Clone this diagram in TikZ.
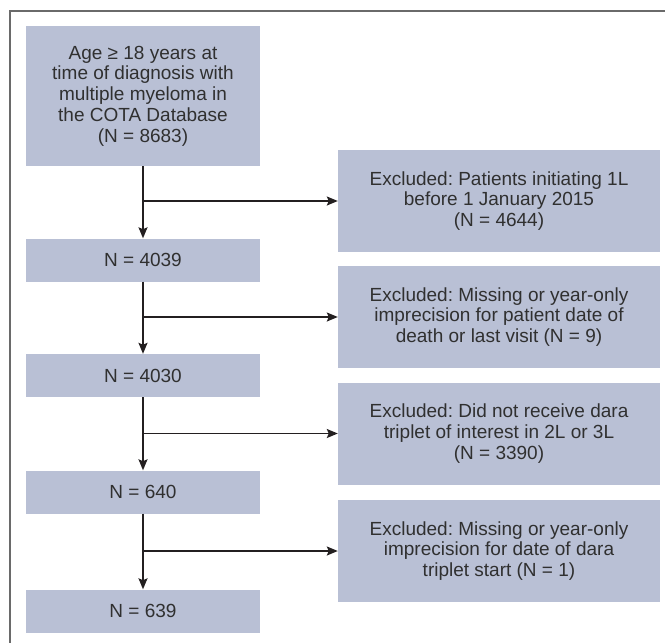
\documentclass[tikz,border=0pt]{standalone}
\usepackage{fontspec}
\setmainfont{Liberation Sans}
\usetikzlibrary{positioning, arrows.meta}

\definecolor{boxfill}{HTML}{B9C0D5}
\definecolor{textgrey}{HTML}{303030}
\definecolor{framegrey}{HTML}{6A6A6A}
\definecolor{arrowdark}{HTML}{231F20}

\begin{document}
\frenchspacing
\begin{tikzpicture}[x=1pt, y=-1pt,
    box/.style={fill=boxfill, text=textgrey, align=center, inner sep=0pt,
        font=\fontsize{19}{20.7}\selectfont},
    count/.style={box, minimum width=234pt, minimum height=43pt},
    excl/.style={box, minimum width=322pt, minimum height=102pt},
    flow/.style={draw=arrowdark, line width=1.7pt,
        -{Stealth[length=11pt, width=9pt, inset=2pt]}}]
    \useasboundingbox (0, 0) rectangle (665, 643);

    %% Frame
    \draw[framegrey, line width=1.5pt] (10, 643) -- (10, 11) -- (665, 11);

    %% Main column
    % Boxes
    \node[box, minimum width=234pt, minimum height=140pt] (start) at (143, 96)
        {Age ≥ 18 years at\\time of diagnosis with\\multiple myeloma in\\the COTA Database\\(N = 8683)};
    \node[count] (n4039) at (143, 260) {N = 4039};
    \node[count] (n4030) at (143, 375.5) {N = 4030};
    \node[count] (n640) at (143, 492) {N = 640};
    \node[count] (n639) at (143, 611) {N = 639};

    %% Exclusions
    % Boxes
    \node[excl] (ex1) at (499, 201) {Excluded: Patients initiating 1L\\before 1 January 2015\\(N = 4644)};
    \node[excl] (ex2) at (499, 317) {Excluded: Missing or year-only\\imprecision for patient date of\\death or last visit (N = 9)};
    \node[excl] (ex3) at (499, 433.5) {Excluded: Did not receive dara\\triplet of interest in 2L or 3L\\(N = 3390)};
    \node[excl] (ex4) at (499, 551) {Excluded: Missing or year-only\\imprecision for date of dara\\triplet start (N = 1)};

    % Branch points
    \coordinate (b1) at (143, 201);
    \coordinate (b2) at (143, 317);
    \coordinate (b3) at (143, 433.5);
    \coordinate (b4) at (143, 551);

    % Arrows
    \draw[flow] (start) -- (n4039);
    \draw[flow] (n4039) -- (n4030);
    \draw[flow] (n4030) -- (n640);
    \draw[flow] (n640) -- (n639);
    \draw[flow] (b1) -- (ex1);
    \draw[flow] (b2) -- (ex2);
    \draw[flow] (b3) -- (ex3);
    \draw[flow] (b4) -- (ex4);
\end{tikzpicture}
\end{document}
